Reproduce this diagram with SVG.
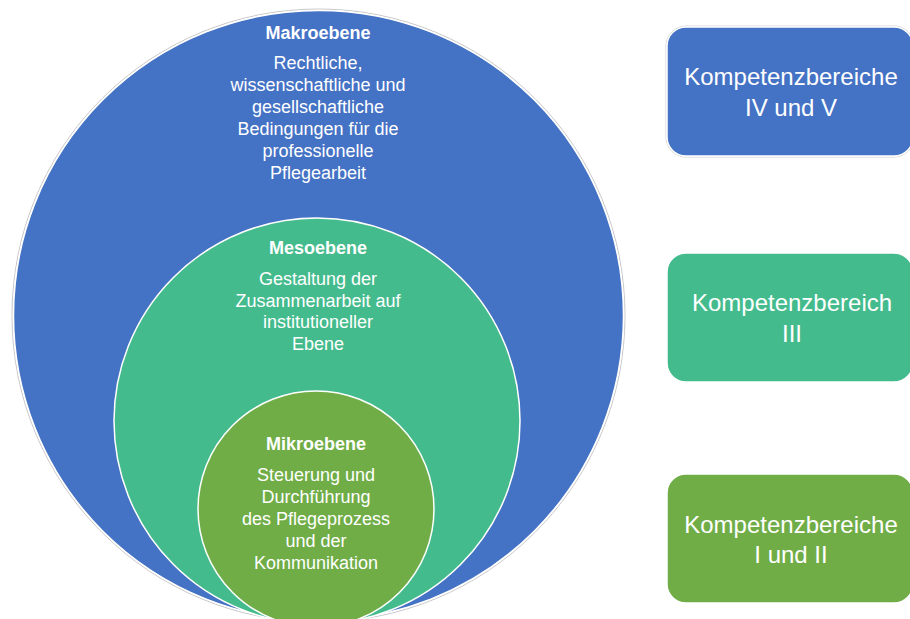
<svg xmlns="http://www.w3.org/2000/svg" width="910" height="619" viewBox="0 0 910 619">
<style>
text{font-family:"Liberation Sans",Arial,sans-serif;fill:#ffffff;text-anchor:middle}
.h{font-size:18px;font-weight:bold}
.b{font-size:18px}
.k{font-size:24px}
.ring{stroke:#ffffff;stroke-width:1.5}
.halo{fill:none;stroke:#c8c8c8;stroke-width:1}
</style>
<rect width="910" height="619" fill="#ffffff"/>
<g id="makroebene">
<circle class="halo" cx="318.5" cy="315.5" r="306.5"/>
<circle class="ring" cx="318.5" cy="315.5" r="305" fill="#4472C4"/>
<text class="h" x="318" y="39">Makroebene</text>
<text class="b" x="318" y="69">Rechtliche,</text>
<text class="b" x="318" y="91">wissenschaftliche und</text>
<text class="b" x="318" y="113">gesellschaftliche</text>
<text class="b" x="318" y="135">Bedingungen für die</text>
<text class="b" x="318" y="157">professionelle</text>
<text class="b" x="318" y="179">Pflegearbeit</text>
</g>
<g id="mesoebene">
<circle class="ring" cx="317" cy="421" r="203" fill="#44BB8D"/>
<text class="h" x="318" y="254">Mesoebene</text>
<text class="b" x="318" y="285">Gestaltung der</text>
<text class="b" x="318" y="307">Zusammenarbeit auf</text>
<text class="b" x="318" y="328">institutioneller</text>
<text class="b" x="318" y="350">Ebene</text>
</g>
<g id="mikroebene">
<circle class="ring" cx="316" cy="509" r="118" fill="#70AD47"/>
<text class="h" x="316" y="450">Mikroebene</text>
<text class="b" x="316" y="481">Steuerung und</text>
<text class="b" x="316" y="503">Durchführung</text>
<text class="b" x="316" y="525">des Pflegeprozess</text>
<text class="b" x="316" y="547">und der</text>
<text class="b" x="316" y="569">Kommunikation</text>
</g>
<g id="connectors"/>
<g id="kb45">
<rect x="666" y="26" width="248" height="131" rx="20" fill="none" stroke="#d0d0d0" stroke-width="1"/>
<rect x="667" y="27" width="246" height="129" rx="19" fill="#4472C4" stroke="#ffffff" stroke-width="1.5"/>
<text class="k" x="791" y="85">Kompetenzbereiche</text>
<text class="k" x="791" y="116">IV und V</text>
</g>
<g id="kb3">
<rect x="667" y="253" width="246" height="129" rx="19" fill="#44BB8D" stroke="#ffffff" stroke-width="1.5"/>
<text class="k" x="792" y="311">Kompetenzbereich</text>
<text class="k" x="792" y="342">III</text>
</g>
<g id="kb12">
<rect x="667" y="474" width="246" height="129" rx="19" fill="#70AD47" stroke="#ffffff" stroke-width="1.5"/>
<text class="k" x="791" y="533">Kompetenzbereiche</text>
<text class="k" x="791" y="563">I und II</text>
</g>
</svg>
